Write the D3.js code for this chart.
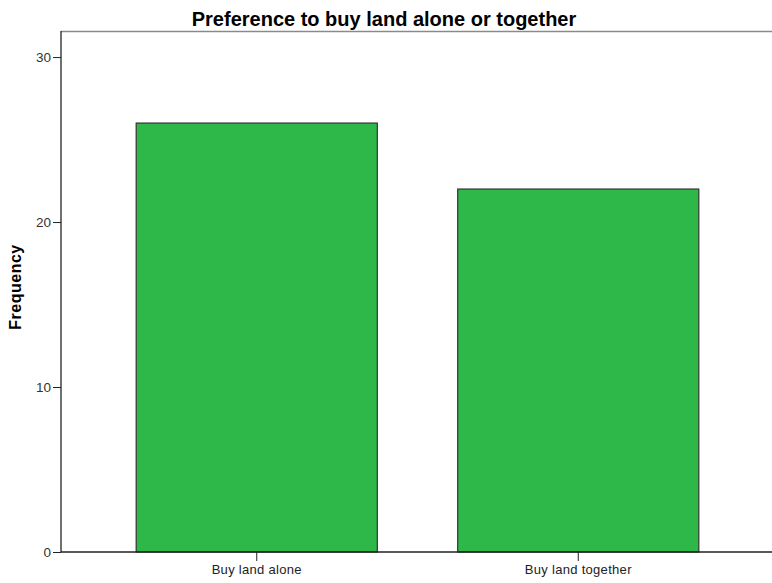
<!DOCTYPE html>
<html>
<head>
<meta charset="utf-8">
<script src="https://cdn.jsdelivr.net/npm/d3@7"></script>
<style>
  body { margin: 0; background: #fff; }
  svg { display: block; font-family: "Liberation Sans", Arial, sans-serif; }
</style>
</head>
<body>
<div class="container"></div>
<script>
const categories = ["Buy land alone", "Buy land together"];
const frequencies = [26, 22];
const yTicks = [0, 10, 20, 30];

const width = 772;
const height = 583;
const plotLeft = 61, plotTop = 31, plotBottom = 552, plotRight = 772;

const svg = d3.select(".container").append("svg")
    .attr("width", width)
    .attr("height", height);

const xScale = d3.scaleBand()
    .domain(categories)
    .range([96, 739])
    .paddingInner(0.25)
    .paddingOuter(0.125);

const yScale = d3.scaleLinear()
    .domain([0, 31.58])
    .range([plotBottom, plotTop]);

// top frame line
svg.append("line")
    .attr("x1", plotLeft).attr("x2", plotRight)
    .attr("y1", plotTop + 0.5).attr("y2", plotTop + 0.5)
    .attr("stroke", "#8a8a8a")
    .attr("stroke-width", 1.5);

svg.selectAll("rect.bar")
    .data(frequencies)
    .enter()
    .append("rect")
    .attr("class", "bar")
    .attr("x", (d, i) => xScale(categories[i]))
    .attr("y", d => yScale(d))
    .attr("width", xScale.bandwidth())
    .attr("height", d => plotBottom - yScale(d))
    .attr("fill", "#2fb84a")
    .attr("stroke", "#333")
    .attr("stroke-width", 1.2);

const yAxis = d3.axisLeft(yScale).tickValues(yTicks).tickSize(8).tickPadding(2).tickFormat(d3.format("d"));
svg.append("g")
    .attr("transform", `translate(${plotLeft},0)`)
    .call(yAxis)
    .call(g => g.select(".domain").attr("d", `M0,${plotTop}V${plotBottom}`).attr("stroke", "#222").attr("stroke-width", 1.3))
    .call(g => g.selectAll(".tick line").attr("stroke", "#222"))
    .call(g => g.selectAll(".tick text").attr("font-size", 13.5).attr("fill", "#333").attr("font-family", "Liberation Sans, Arial, sans-serif"));

const xAxis = d3.axisBottom(xScale).tickSize(9).tickPadding(4);
svg.append("g")
    .attr("transform", `translate(0,${plotBottom})`)
    .call(xAxis)
    .call(g => g.select(".domain").attr("d", `M${plotLeft},0H${plotRight}`).attr("stroke", "#222").attr("stroke-width", 1.3))
    .call(g => g.selectAll(".tick line").attr("stroke", "#222"))
    .call(g => g.selectAll(".tick text").attr("font-size", 13).attr("letter-spacing", 0.3).attr("fill", "#222").attr("font-family", "Liberation Sans, Arial, sans-serif"));

svg.append("text")
    .attr("x", 384)
    .attr("y", 25.5)
    .attr("text-anchor", "middle")
    .attr("font-size", 20)
    .attr("font-weight", "bold")
    .text("Preference to buy land alone or together");

svg.append("text")
    .attr("transform", `translate(21,287) rotate(-90)`)
    .attr("text-anchor", "middle")
    .attr("font-size", 16)
    .attr("font-weight", "bold")
    .attr("letter-spacing", 0.5)
    .text("Frequency");
</script>
</body>
</html>
